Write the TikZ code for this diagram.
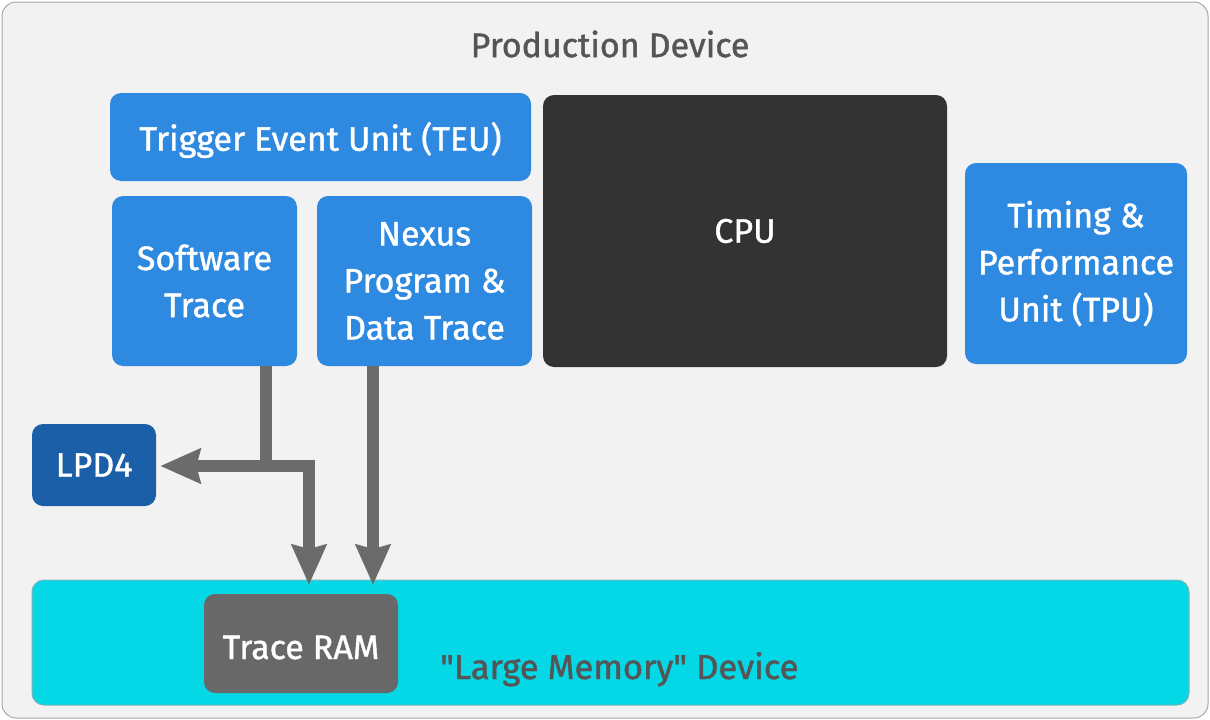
\documentclass[tikz,border=0pt]{standalone}
\usepackage{fontspec}
\setmainfont[FakeBold=1.2]{Fira Sans}
\newfontfamily\plainqfont[FakeBold=1.2,Ligatures=TeXOff]{Fira Sans}
\usetikzlibrary{arrows.meta}
\definecolor{bgc}{HTML}{F2F2F2}
\definecolor{framec}{HTML}{A8A8A8}
\definecolor{blu}{HTML}{2E89E0}
\definecolor{dblu}{HTML}{1A5FA8}
\definecolor{cpuc}{HTML}{333333}
\definecolor{cyanc}{HTML}{04D8E6}
\definecolor{ramc}{HTML}{686868}
\definecolor{arrc}{HTML}{6B6B6B}
\definecolor{txtc}{HTML}{555555}
\begin{document}
\begin{tikzpicture}[x=1pt,y=-1pt,
  >={Stealth[length=40pt,width=34pt,inset=4pt]},
  box/.style={rounded corners=11pt, fill=blu, text=white, align=center, inner sep=0pt, font=\fontsize{34}{47}\selectfont},
  flow/.style={draw=arrc, line width=12pt, ->},
  flowtwo/.style={draw=arrc, line width=12pt, <->},
  plain/.style={draw=arrc, line width=12pt}]
\useasboundingbox (0,0) rectangle (1210,720);
\draw[fill=bgc, draw=framec, line width=1pt, rounded corners=14pt] (2,2) rectangle (1208,718);
\node[text=txtc, font=\fontsize{34}{40}\selectfont] (title) at (610,44) {Production Device};
\node[box, minimum width=421pt, minimum height=88pt] (teu) at (320.5,137) {\raisebox{-3pt}[\height][\depth]{Trigger Event Unit (TEU)}};
\node[box, minimum width=185pt, minimum height=170pt] (sw) at (204.5,281) {Software\\Trace};
\node[box, minimum width=215pt, minimum height=170pt] (nx) at (424.5,281) {Nexus\\Program \&\\Data Trace};
\node[box, fill=cpuc, minimum width=404pt, minimum height=272pt] (cpu) at (745,231) {CPU};
\node[box, minimum width=222pt, minimum height=201pt] (tpu) at (1076,263.5) {Timing \&\\Performance\\Unit (TPU)};
\node[box, fill=dblu, minimum width=124pt, minimum height=82pt] (lpd) at (94,465) {LPD4};
\node[rounded corners=12pt, fill=cyanc, draw=framec!70!cyanc, line width=1pt, minimum width=1157pt, minimum height=125pt, inner sep=0pt] (mem) at (610.5,642.5) {};
\node[box, fill=ramc, minimum width=194pt, minimum height=99pt] (ram) at (301,643.5) {\raisebox{-4pt}[\height][\depth]{Trace RAM}};
\node[text=txtc, font=\fontsize{34.5}{40}\plainqfont, anchor=base west, inner sep=0pt] (memlbl) at (440,679) {"Large Memory" Device};
\coordinate (j) at (266,466);
\draw[plain] (sw.south -| j) -- (j);
\draw[flowtwo] (lpd.east |- j) ++(4,0) -| (309,585);
\draw[flow] (373,366) -- (373,585);
\end{tikzpicture}
\end{document}
